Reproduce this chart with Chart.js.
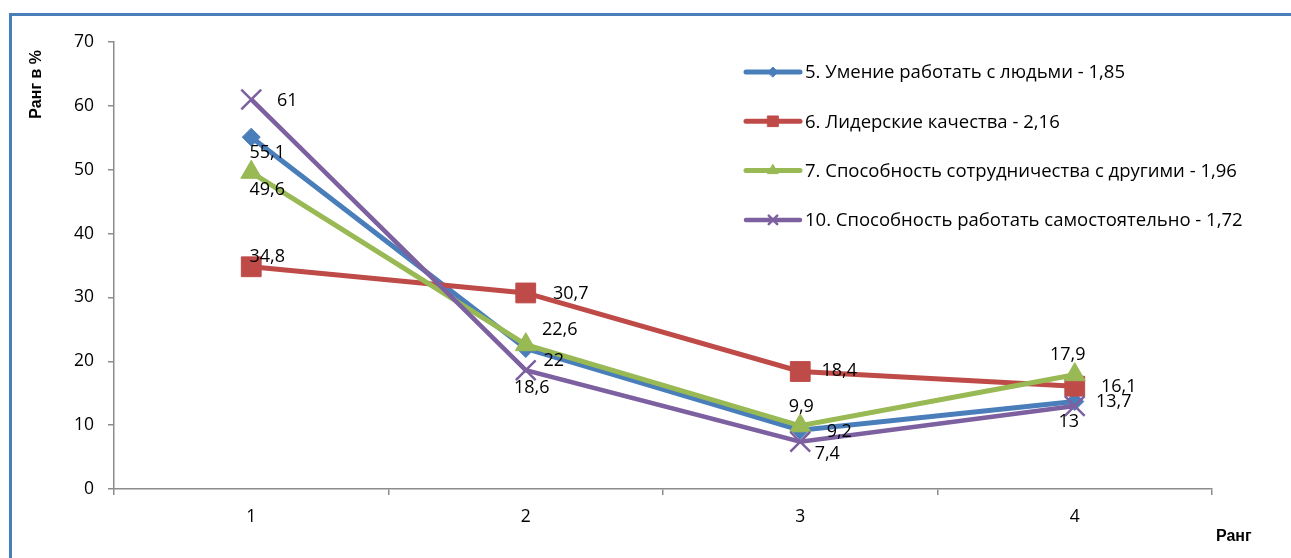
<!DOCTYPE html>
<html>
<head>
<meta charset="utf-8">
<script src="https://cdn.jsdelivr.net/npm/chart.js@4.4.1/dist/chart.umd.min.js"></script>
<style>
  html, body { margin: 0; padding: 0; background: #ffffff; }
  canvas { display: block; }
</style>
</head>
<body>
<canvas id="chart" width="1291" height="558"></canvas>
<script>
// Rank categories on the x axis
const categories = ['1', '2', '3', '4'];

// Series names shown in the legend
const seriesNames = [
  '5. Умение работать с людьми - 1,85',
  '6. Лидерские качества - 2,16',
  '7. Способность сотрудничества с другими - 1,96',
  '10. Способность работать самостоятельно - 1,72'
];

// Share of respondents (%) for each rank
const workWithPeople = [55.1, 22, 9.2, 13.7];
const leadership = [34.8, 30.7, 18.4, 16.1];
const cooperation = [49.6, 22.6, 9.9, 17.9];
const independentWork = [61, 18.6, 7.4, 13];

// Y axis range
const yMin = 0;
const yMax = 70;
const yStep = 10;

const yTitle = 'Ранг в %';
const xTitle = 'Ранг';

// Visual style per series
const seriesStyles = [
  { color: '#4A7EBB', pointStyle: 'rectRot', radius: 9, pointBorder: 1, legendRadius: 5, lineWidth: 5 },
  { color: '#BE4B48', pointStyle: 'rect', radius: 14, pointBorder: 1, legendRadius: 7.5, lineWidth: 5 },
  { color: '#98B954', pointStyle: 'triangle', radius: 12, pointBorder: 1, legendRadius: 6, lineWidth: 5 },
  { color: '#7D60A0', pointStyle: 'crossRot', radius: 14, pointBorder: 2.5, legendRadius: 6, lineWidth: 4.5 }
];

// Value label offsets from each point (text centre, px)
const labelOffsets = [
  [[16, 16], [28, 12], [39, 2], [39, 0]],
  [[16, -10], [45, 1], [39, -1], [44, 1]],
  [[16, 18], [34, -15], [1, -19], [-7, -20]],
  [[36, 1], [6, 18], [27, 12], [-6, 16]]
];

const seriesValues = [workWithPeople, leadership, cooperation, independentWork];

const fontFamily = '"Open Sans", Lato, sans-serif';
const numberFont = '18px ' + fontFamily;
const legendFont = '18.5px ' + fontFamily;
const titleFont = 'bold 16px "Liberation Sans", Arial, sans-serif';

function formatValue(v) {
  return String(v).replace('.', ',');
}

// Blue frame around the chart
const framePlugin = {
  id: 'frame',
  beforeDraw(chart) {
    const ctx = chart.ctx;
    ctx.save();
    ctx.fillStyle = '#ffffff';
    ctx.fillRect(0, 0, chart.width, chart.height);
    ctx.strokeStyle = '#4A7EBB';
    ctx.lineWidth = 3;
    ctx.strokeRect(10.5, 14.5, chart.width + 40, chart.height + 40);
    ctx.restore();
  }
};

// Axis titles: vertical one near the top of the y axis, horizontal one past the end of x axis
const axisTitlesPlugin = {
  id: 'axisTitles',
  afterDraw(chart) {
    const ctx = chart.ctx;
    ctx.save();
    ctx.fillStyle = '#000000';
    ctx.font = titleFont;
    ctx.textBaseline = 'middle';
    ctx.save();
    ctx.translate(37, chart.chartArea.top + 8);
    ctx.rotate(-Math.PI / 2);
    ctx.textAlign = 'right';
    ctx.fillText(yTitle, 0, 0);
    ctx.restore();
    ctx.textAlign = 'left';
    ctx.fillText(xTitle, chart.chartArea.right + 4, 537);
    ctx.restore();
  }
};

// Value labels next to each marker
const valueLabelsPlugin = {
  id: 'valueLabels',
  afterDatasetsDraw(chart) {
    const ctx = chart.ctx;
    ctx.save();
    ctx.font = numberFont;
    ctx.fillStyle = '#000000';
    ctx.textAlign = 'center';
    ctx.textBaseline = 'middle';
    chart.data.datasets.forEach((ds, i) => {
      const meta = chart.getDatasetMeta(i);
      meta.data.forEach((pt, j) => {
        const off = labelOffsets[i][j];
        ctx.fillText(formatValue(ds.data[j]), pt.x + off[0], pt.y + off[1]);
      });
    });
    ctx.restore();
  }
};

// Legend drawn inside the plot area on the right
const sideLegendPlugin = {
  id: 'sideLegend',
  afterDraw(chart) {
    const ctx = chart.ctx;
    const x0 = 746, x1 = 800, yStart = 72, gap = 49.3;
    ctx.save();
    chart.data.datasets.forEach((ds, i) => {
      const st = seriesStyles[i];
      const y = yStart + i * gap;
      ctx.strokeStyle = st.color;
      ctx.lineWidth = st.lineWidth;
      ctx.lineCap = 'round';
      ctx.beginPath();
      ctx.moveTo(x0, y);
      ctx.lineTo(x1, y);
      ctx.stroke();
      ctx.fillStyle = st.color;
      ctx.lineWidth = st.pointBorder;
      Chart.helpers.drawPoint(ctx, {
        pointStyle: st.pointStyle,
        radius: st.legendRadius,
        rotation: 0,
        borderWidth: st.pointBorder
      }, (x0 + x1) / 2, y);
      ctx.fillStyle = '#000000';
      ctx.font = legendFont;
      ctx.textAlign = 'left';
      ctx.textBaseline = 'middle';
      ctx.fillText(ds.label, x1 + 5, y + 1);
    });
    ctx.restore();
  }
};

const datasets = seriesValues.map((vals, i) => {
  const st = seriesStyles[i];
  return {
    label: seriesNames[i],
    data: vals,
    borderColor: st.color,
    backgroundColor: st.color,
    borderWidth: st.lineWidth,
    tension: 0,
    pointStyle: st.pointStyle,
    pointRadius: st.radius,
    pointHoverRadius: st.radius,
    pointBorderWidth: st.pointBorder,
    pointBackgroundColor: st.color,
    pointBorderColor: st.color,
    order: seriesValues.length - 1 - i
  };
});

new Chart(document.getElementById('chart'), {
  type: 'line',
  data: { labels: categories, datasets },
  options: {
    responsive: false,
    animation: false,
    devicePixelRatio: 1,
    layout: { padding: { top: 42, right: 79, left: 0, bottom: 0 } },
    plugins: {
      legend: { display: false },
      tooltip: { enabled: false }
    },
    scales: {
      x: {
        type: 'category',
        offset: true,
        afterFit(scale) { scale.height = 69; },
        grid: {
          offset: true,
          drawOnChartArea: false,
          drawTicks: true,
          tickLength: 6,
          color: '#8C8C8C',
          lineWidth: 1.5
        },
        border: { color: '#8C8C8C', width: 1.5 },
        ticks: {
          color: '#000000',
          font: { family: fontFamily, size: 17.5 },
          padding: 12,
          maxRotation: 0
        }
      },
      y: {
        min: yMin,
        max: yMax,
        afterFit(scale) { scale.width = 114; },
        grid: {
          drawOnChartArea: false,
          drawTicks: true,
          tickLength: 6,
          color: '#8C8C8C',
          lineWidth: 1.5
        },
        border: { color: '#8C8C8C', width: 1.5 },
        ticks: {
          stepSize: yStep,
          color: '#000000',
          font: { family: fontFamily, size: 17.5 },
          padding: 14
        }
      }
    }
  },
  plugins: [framePlugin, axisTitlesPlugin, valueLabelsPlugin, sideLegendPlugin]
});
</script>
</body>
</html>
